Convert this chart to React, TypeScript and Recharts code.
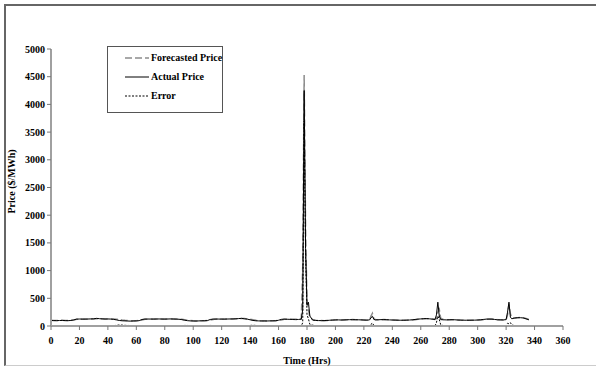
import { LineChart, Line, XAxis, YAxis, Label } from 'recharts';

// hours since start of the two-week window (denser around spikes)
const hours = [
  0, 2, 4, 6, 8, 10, 12, 14, 16, 18,
  20, 22, 24, 26, 28, 30, 32, 34, 36, 38,
  40, 42, 44, 46, 48, 50, 52, 54, 56, 58,
  60, 62, 64, 66, 68, 70, 72, 74, 76, 78,
  80, 82, 84, 86, 88, 90, 92, 94, 96, 98,
  100, 102, 104, 106, 108, 110, 112, 114, 116, 118,
  120, 122, 124, 126, 128, 130, 132, 134, 136, 138,
  140, 142, 144, 146, 148, 150, 152, 154, 156, 158,
  160, 162, 164, 166, 168, 170, 172, 174, 176,
  177, 178, 179, 180, 181, 182,
  184, 186, 188, 190, 192, 194, 196, 198, 200, 202,
  204, 206, 208, 210, 212, 214, 216, 218, 220, 222, 224,
  225, 226, 227,
  228, 230, 232, 234, 236, 238, 240, 242, 244, 246,
  248, 250, 252, 254, 256, 258, 260, 262, 264, 266, 268, 270,
  271, 272, 273,
  274, 276, 278, 280, 282, 284, 286, 288, 290, 292,
  294, 296, 298, 300, 302, 304, 306, 308, 310, 312, 314, 316, 318, 320,
  321, 322, 323,
  324, 326, 328, 330, 332, 334, 336,
];

const actualPrice = [
  100, 98, 97, 99, 100, 98, 96, 100, 110, 124,
  126, 125, 124, 126, 128, 130, 138, 132, 128, 126,
  127, 125, 120, 110, 100, 94, 92, 90, 88, 90,
  92, 96, 118, 125, 126, 125, 124, 126, 127, 125,
  124, 126, 128, 126, 124, 122, 115, 104, 96, 92,
  90, 90, 92, 94, 95, 98, 118, 125, 126, 125,
  124, 125, 126, 127, 128, 130, 134, 138, 130, 124,
  112, 100, 94, 92, 90, 90, 91, 92, 93, 95,
  104, 120, 124, 122, 120, 118, 120, 118, 125,
  300, 4250, 1400, 380, 430, 180,
  105, 100, 98, 97, 98, 100, 104, 108, 110, 110,
  108, 110, 112, 114, 115, 114, 112, 110, 108, 105, 110,
  150, 175, 120,
  110, 112, 115, 116, 114, 110, 108, 106, 105, 104,
  104, 106, 108, 112, 118, 124, 128, 132, 135, 130, 124, 118,
  200, 430, 180,
  115, 112, 110, 112, 114, 112, 108, 106, 105, 104,
  104, 105, 106, 108, 112, 118, 124, 126, 124, 118, 112, 110, 110, 115,
  250, 430, 160,
  130, 145, 150, 150, 145, 130, 112,
];

const forecastPrice = [
  104, 101, 99, 102, 104, 100, 98, 103, 106, 120,
  122, 124, 126, 124, 125, 128, 132, 134, 130, 127,
  126, 128, 126, 122, 118, 110, 104, 100, 96, 94,
  95, 100, 108, 120, 124, 127, 126, 125, 126, 127,
  126, 125, 126, 128, 126, 124, 122, 114, 106, 98,
  94, 92, 93, 95, 97, 100, 106, 118, 124, 126,
  126, 124, 125, 128, 127, 129, 132, 134, 134, 128,
  122, 114, 104, 98, 95, 93, 92, 93, 94, 96,
  100, 110, 122, 124, 122, 120, 118, 120, 122,
  1070, 4530, 1750, 420, 300, 150,
  120, 106, 100, 98, 97, 99, 102, 106, 109, 111,
  110, 109, 111, 113, 116, 115, 114, 112, 110, 108, 106,
  180, 230, 130,
  118, 114, 114, 117, 115, 112, 109, 107, 105, 105,
  105, 105, 107, 110, 115, 120, 126, 130, 133, 132, 127, 120,
  140, 250, 300,
  140, 116, 111, 111, 113, 113, 110, 107, 106, 105,
  105, 104, 105, 107, 110, 115, 120, 124, 125, 121, 115, 112, 110, 112,
  200, 390, 220,
  150, 140, 148, 152, 148, 135, 118,
];

const priceError = [
  4, 3, 2, 3, 4, 2, 2, 3, 4, 4,
  4, 1, 2, 2, 3, 2, 6, 2, 2, 1,
  1, 3, 6, 12, 18, 16, 12, 10, 8, 4,
  3, 4, 10, 5, 2, 2, 2, 1, 1, 2,
  2, 1, 2, 2, 2, 2, 7, 10, 10, 6,
  4, 2, 1, 1, 2, 2, 12, 7, 2, 1,
  2, 1, 1, 1, 1, 1, 2, 4, 4, 4,
  10, 14, 10, 6, 5, 3, 1, 1, 1, 1,
  4, 10, 2, 2, 2, 2, 2, 2, 3,
  60, 3700, 1300, 200, 130, 30,
  15, 6, 2, 1, 1, 1, 2, 2, 1, 1,
  2, 1, 1, 1, 1, 1, 2, 2, 2, 3, 4,
  30, 55, 10,
  8, 2, 1, 1, 1, 2, 1, 1, 0, 1,
  1, 1, 1, 2, 3, 4, 2, 2, 2, 2, 3, 2,
  60, 180, 120,
  25, 4, 1, 1, 1, 1, 2, 1, 1, 1,
  1, 1, 1, 1, 2, 3, 4, 2, 1, 3, 3, 2, 0, 3,
  50, 40, 60,
  20, 5, 2, 2, 3, 5, 6,
];

const xTicks = [0, 20, 40, 60, 80, 100, 120, 140, 160, 180, 200, 220, 240, 260, 280, 300, 320, 340, 360];
const yTicks = [0, 500, 1000, 1500, 2000, 2500, 3000, 3500, 4000, 4500, 5000];

const data = hours.map((h, i) => ({
  hour: h,
  forecast: forecastPrice[i],
  actual: actualPrice[i],
  error: priceError[i],
}));

const FONT = '"Liberation Serif", "Times New Roman", serif';
const tickStyle = { fontFamily: FONT, fontSize: 10, fontWeight: 'bold', fill: '#000' };

const legendItems = [
  { label: 'Forecasted Price', stroke: '#8c8c8c', dash: '7 3', width: 1.5 },
  { label: 'Actual Price', stroke: '#000', dash: undefined, width: 1 },
  { label: 'Error', stroke: '#000', dash: '2 1.5', width: 1 },
];

// legend drawn as a plain box so it doesn't eat into the plot area
function LegendBox() {
  return (
    <div
      style={{
        position: 'absolute',
        left: 107,
        top: 46,
        width: 116,
        height: 67,
        border: '1px solid #555',
        background: '#fff',
        boxSizing: 'border-box',
        paddingTop: 1,
      }}
    >
      {legendItems.map((item) => (
        <div key={item.label} style={{ display: 'flex', alignItems: 'center', height: 19, whiteSpace: 'nowrap' }}>
          <svg width={43} height={8} style={{ display: 'block', flex: 'none' }}>
            <line
              x1={17}
              y1={4}
              x2={41}
              y2={4}
              stroke={item.stroke}
              strokeWidth={item.width}
              strokeDasharray={item.dash}
            />
          </svg>
          <span style={{ fontFamily: FONT, fontSize: 10, fontWeight: 'bold', color: '#000' }}>
            {item.label}
          </span>
        </div>
      ))}
    </div>
  );
}

export default function App() {
  return (
    <div style={{ position: 'absolute', left: 0, top: 0, width: 596, height: 369, background: '#fff' }}>
      <div
        style={{
          position: 'absolute',
          left: 4,
          top: 4,
          width: 600,
          height: 362,
          borderTop: '2px solid #666',
          borderLeft: '2px solid #666',
          borderBottom: '1px solid #ccc',
          boxSizing: 'border-box',
        }}
      />
      <LineChart
        width={596}
        height={369}
        data={data}
        margin={{ top: 49, right: 33, bottom: 0, left: 0 }}
        style={{ position: 'absolute', left: 0, top: 0 }}
      >
        <XAxis
          dataKey="hour"
          type="number"
          domain={[0, 360]}
          ticks={xTicks}
          interval={0}
          axisLine={{ stroke: '#a0a0a0', strokeWidth: 2 }}
          tickLine={{ stroke: '#777' }}
          tickSize={4}
          tickMargin={7}
          tick={tickStyle}
          height={43}
        >
          <Label
            value="Time (Hrs)"
            position="insideBottom"
            offset={5}
            style={{ fontFamily: FONT, fontSize: 10, fontWeight: 'bold', fill: '#000' }}
          />
        </XAxis>
        <YAxis
          type="number"
          domain={[0, 5000]}
          ticks={yTicks}
          interval={0}
          width={51}
          axisLine={{ stroke: '#a0a0a0', strokeWidth: 2 }}
          tickLine={{ stroke: '#777' }}
          tickSize={4}
          tickMargin={2}
          tick={tickStyle}
        >
          <Label
            value="Price ($/MWh)"
            angle={-90}
            position="insideLeft"
            offset={11}
            dy={-6}
            style={{ fontFamily: FONT, fontSize: 10, fontWeight: 'bold', fill: '#000', textAnchor: 'middle' }}
          />
        </YAxis>
        <Line
          type="linear"
          dataKey="forecast"
          stroke="#8c8c8c"
          strokeWidth={1.5}
          strokeDasharray="7 3"
          dot={false}
          isAnimationActive={false}
        />
        <Line
          type="linear"
          dataKey="actual"
          stroke="#000"
          strokeWidth={1}
          dot={false}
          isAnimationActive={false}
        />
        <Line
          type="linear"
          dataKey="error"
          stroke="#000"
          strokeWidth={1}
          strokeDasharray="2 1.5"
          dot={false}
          isAnimationActive={false}
        />
      </LineChart>
      <LegendBox />
    </div>
  );
}
